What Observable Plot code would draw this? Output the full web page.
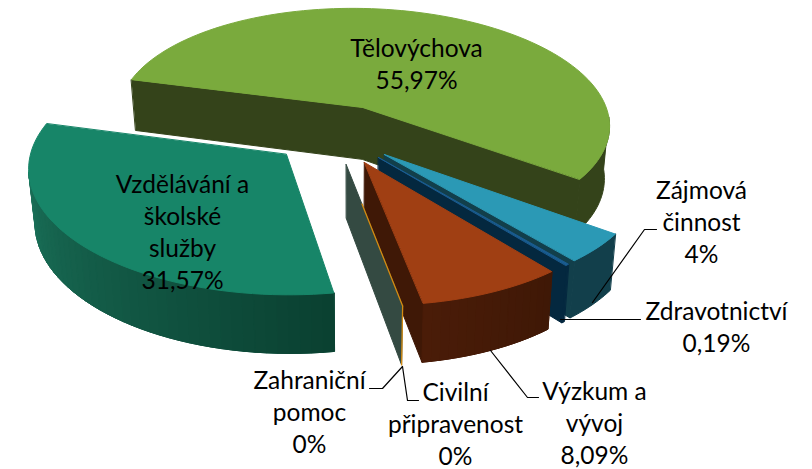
<!DOCTYPE html>
<html><head><meta charset="utf-8">
<style>html,body{margin:0;padding:0;background:#fff}</style>
<script src="https://cdn.jsdelivr.net/npm/d3@7"></script>
<script src="https://cdn.jsdelivr.net/npm/@observablehq/plot@0.6"></script>
</head><body><div id="chart"></div>
<script>
// Data
const categories = ["Tělovýchova","Zájmová činnost","Zdravotnictví","Výzkum a vývoj","Civilní připravenost","Zahraniční pomoc","Vzdělávání a školské služby"];
const labelLines = [["Tělovýchova"],["Zájmová","činnost"],["Zdravotnictví"],["Výzkum a","vývoj"],["Civilní","připravenost"],["Zahraniční","pomoc"],["Vzdělávání a","školské","služby"]];
const shares = [55.97,4,0.19,8.09,0,0,31.57];

// Look
const topColors  = ["#7aaa3d","#2b99b5","#1a5c90","#a03f13","#d48a10","#d48a10","#178568"];
const wallFrom   = ["#34431a","#123f4b","#04283f","#3f1806","#344a42","#344a42","#0a4030"];
const wallTo     = ["#34431a","#123f4b","#04283f","#4a1c08","#344a42","#344a42","#1a7058"];
const explodeX   = [0,0.0673,0.0427,-0.0136,-0.085,-0.085,-0.315];
const explodeY   = [0,0.403,0.427,0.4675,0.4835,0.4835,0.403];
const labelX     = [416,701,716,594,455,309,182];
const labelY     = [49,191,312,392,393,381,185];
const leaders = [
  [[592,302],[644,229],[656,229]],
  [[560,319],[640,319]],
  [[490,350],[527,397],[538,397]],
  [[402,366],[407,400],[418,400]],
  [[402,366],[382,388],[369,388]]
];

// Tilted-disc view
const startAngle = -75;
const view = {a:362,b:107,sx:243.7,shear:-32.4,sy:98.2,persp:0.12};
function project(X,Y){
  const D = 1 - view.persp*Y;
  return [(view.a + view.sx*X + view.shear*Y)/D, (view.b + view.sy*Y)/D];
}
function lower([x,y]){ return [x + (350-x)*0.02, y + 48 + 0.036*y]; }
const rim = (i,t)=>{ const r=t*Math.PI/180; return project(explodeX[i]+Math.sin(r), explodeY[i]-Math.cos(r)); };
const apex = i=>project(explodeX[i],explodeY[i]);

const total = d3.sum(shares);
let acc = startAngle;
const spans = shares.map(s=>{const a=acc; acc+=s/total*360; return [a,acc];});

const polys = [];
let pid = 0;
function poly(pts,color){ const id=pid++; for(const p of pts) polys.push({id,x:p[0],y:p[1],c:color}); }
function arc(i,a0,a1,n){ const out=[]; for(let k=0;k<=n;k++) out.push(rim(i,a0+(a1-a0)*k/n)); return out; }
function outerWall(i,a0,a1,n){
  const mix=d3.interpolateRgb(wallFrom[i],wallTo[i]);
  const edge=arc(i,a0,a1,n);
  poly([...edge,...edge.map(lower).reverse()],d3.color(mix(.5)).formatHex());
  if(wallFrom[i]===wallTo[i]) return;
  for(let k=0;k<n;k++){
    const p=edge[k], q=edge[k+1];
    poly([p,q,lower(q),lower(p)],d3.color(mix((k+.5)/n)).formatHex());
  }
}
function radialWall(i,t){ const p=apex(i),q=rim(i,t); poly([p,q,lower(q),lower(p)],wallFrom[i]); }
function topFace(i){ const [a0,a1]=spans[i]; poly([apex(i),...arc(i,a0,a1,Math.max(2,Math.ceil((a1-a0)/2)))],topColors[i]); }

// Back to front
{
  const band=[rim(0,spans[0][0]),apex(0),rim(0,spans[0][1])];
  poly([...band,...band.map(lower).reverse()],wallFrom[0]);
}
outerWall(0,95,spans[0][1],24); topFace(0);
outerWall(6,spans[6][0],262,40); topFace(6);
radialWall(1,spans[1][1]); outerWall(1,spans[1][0],spans[1][1],6); topFace(1);
radialWall(2,spans[2][1]); outerWall(2,spans[2][0],spans[2][1],1); topFace(2);
radialWall(3,spans[3][1]); outerWall(3,spans[3][0],spans[3][1],16); topFace(3);
radialWall(4,spans[4][1]);

const zeroRim = rim(4,spans[4][1]);
const zeroStart = d3.interpolate(apex(4),zeroRim)(0.28);
const zeroTop = [zeroStart,zeroRim];
const zeroEdge = [zeroRim,lower(zeroRim)];
const toRows = (pts,id)=>pts.map(p=>({id,x:p[0],y:p[1]}));
const accent = [...toRows(zeroTop,0),...toRows(zeroEdge,1)];
const leaderRows = leaders.flatMap((l,i)=>toRows(l,i));

const fmt = v=>String(v).replace(".",",")+"%";
const labelRows = categories.map((c,i)=>({text:[...labelLines[i],fmt(shares[i])].join("\n"),x:labelX[i],y:labelY[i]}));

const chart = Plot.plot({
  width:812,height:469,margin:0,
  x:{domain:[0,812],range:[0,812],axis:null},
  y:{domain:[0,469],range:[0,469],axis:null},
  color:{type:"identity"},
  marks:[
    Plot.line(polys,{x:"x",y:"y",z:"id",fill:"c",stroke:"c",strokeWidth:1,curve:"linear-closed"}),
    Plot.line(accent,{x:"x",y:"y",z:"id",stroke:"#d48a10",strokeWidth:1.3}),
    Plot.line(leaderRows,{x:"x",y:"y",z:"id",stroke:"#000",strokeWidth:1.2}),
    Plot.text(labelRows,{x:"x",y:"y",text:"text",fill:"#000",fontSize:24.5,lineHeight:1.31,lineAnchor:"top",dy:-15.5,fontFamily:"Lato",textAnchor:"middle"})
  ],
  style:{background:"#fff"}
});
document.getElementById("chart").appendChild(chart);
</script></body></html>
